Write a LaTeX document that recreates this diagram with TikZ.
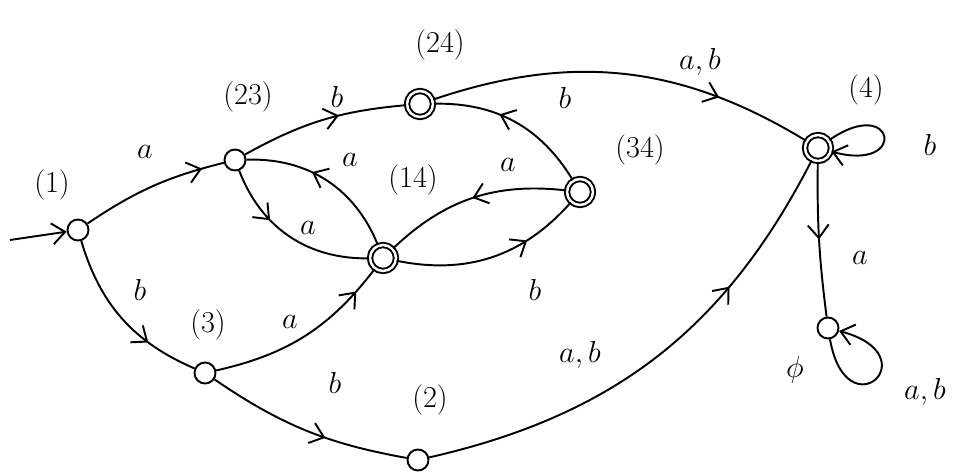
\documentclass[tikz,border=0pt]{standalone}
\usetikzlibrary{arrows.meta,decorations.markings}

\begin{document}
\begin{tikzpicture}[
  x=0.02cm,y=0.02cm,
  every node/.style={inner sep=1.5pt,font=\LARGE},
  state/.style={circle,draw=black,line width=1.1pt,minimum size=0.42cm,inner sep=0pt},
  accept/.style={state,double,double distance=1.4pt,minimum size=0.52cm},
  trans/.style={line width=1.1pt,postaction={decorate},
    decoration={markings,mark=at position #1 with {\arrow{Straight Barb[length=2.6mm,width=4.2mm,line width=1.1pt]}}}},
  trans/.default=0.5,
  tipped/.style={line width=1.1pt,-{Straight Barb[length=2.6mm,width=4.2mm,line width=1.1pt]}}
]
\useasboundingbox (0,-475) rectangle (954,0);
% ================= states =================
\node[state]  (q1)   at (78,-230) {};
\node[state]  (q23)  at (235,-160) {};
\node[accept] (q24)  at (420,-104) {};
\node[accept] (q14)  at (383,-258) {};
\node[accept] (q34)  at (580,-192) {};
\node[accept] (q4)   at (818,-148) {};
\node[state]  (qphi) at (828,-328) {};
\node[state]  (q3)   at (205,-373) {};
\node[state]  (q2)   at (418,-460) {};
\coordinate (start) at (10,-240);
% ================= state names =================
\node (n1)   at (52,-185)  {(1)};
\node (n23)  at (248,-97)  {(23)};
\node (n24)  at (440,-45)  {(24)};
\node (n14)  at (413,-180) {(14)};
\node (n34)  at (640,-150) {(34)};
\node (n4)   at (866,-90)  {(4)};
\node (n3)   at (208,-325) {(3)};
\node (n2)   at (430,-400) {(2)};
\node (nphi) at (795,-370) {$\phi$};
% ================= transitions =================
\draw[tipped] (start) -- (q1);
\draw[trans=0.85] (q1) to[bend left=10] (q23);
\draw[trans=0.7] (q1) to[bend right=25] (q3);
\draw[trans=0.6] (q23) to[bend left=12] (q24);
\draw[trans=0.75] (q24) to[bend left=25] (q4);
\draw[trans=0.6] (q34) to[bend right=30] (q24);
\draw[trans=0.5] (q34) to[bend right=25] (q14);
\draw[trans=0.7] (q14) to[bend right=30] (q34);
\draw[trans=0.35] (q23) to[bend right=35] (q14);
\draw[trans=0.6] (q14) to[bend right=35] (q23);
\draw[trans=0.85] (q3) to[bend right=20] (q14);
\draw[trans=0.6] (q3) to[bend right=12] (q2);
\draw[trans=0.7] (q2) to[bend right=25] (q4);
\draw[trans=0.5] (q4) to[bend right=4] (qphi);
\draw[tipped] (q4) to[out=35,in=-15,distance=1.6cm] (q4);
\draw[tipped] (qphi) to[out=-80,in=-15,distance=1.9cm] (qphi);
% ================= labels =================
\node (l1a)    at (145,-152) {$a$};
\node (l1b)    at (140,-290) {$b$};
\node (l23b)   at (337,-97)  {$b$};
\node (l24ab)  at (700,-62)  {$a,b$};
\node (l4b)    at (930,-145) {$b$};
\node (l4a)    at (860,-258) {$a$};
\node (lphiab) at (925,-392) {$a,b$};
\node (l34a)   at (508,-165) {$a$};
\node (l34b)   at (565,-98)  {$b$};
\node (l14a)   at (350,-160) {$a$};
\node (l23a)   at (308,-228) {$a$};
\node (l14b)   at (535,-290) {$b$};
\node (l3a)    at (290,-322) {$a$};
\node (l3b)    at (335,-383) {$b$};
\node (l2ab)   at (580,-355) {$a,b$};
\end{tikzpicture}
\end{document}
